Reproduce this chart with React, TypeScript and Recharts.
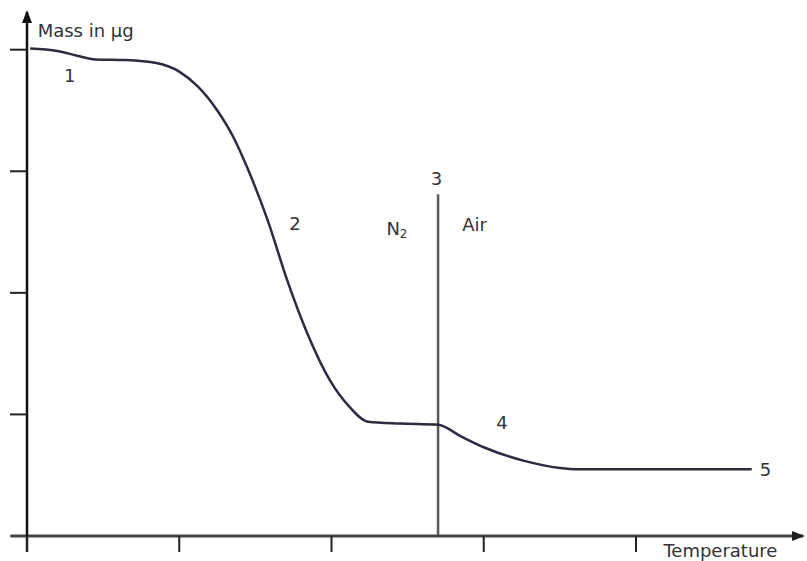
import {
  LineChart,
  Line,
  XAxis,
  YAxis,
  ReferenceLine,
  ReferenceDot,
} from "recharts";

// temperature (arbitrary units, one unit per x tick) and mass (one unit per y tick)
const temperature = [
  0.02, 0.2, 0.33, 0.45, 0.65, 0.85, 1.0, 1.12, 1.25, 1.36, 1.45, 1.58, 1.71,
  1.84, 1.99, 2.12, 2.24, 2.45, 2.7, 2.85, 3.0, 3.26, 3.5, 3.62, 4.76,
];
const mass = [
  4.01, 3.99, 3.95, 3.92, 3.915, 3.89, 3.82, 3.7, 3.5, 3.27, 3.02, 2.6, 2.1,
  1.67, 1.28, 1.06, 0.94, 0.925, 0.915, 0.82, 0.73, 0.62, 0.56, 0.55, 0.55,
];

const xTicks = [0, 1, 2, 3, 4];
const yTicks = [1, 2, 3, 4];

// gas switch from nitrogen to air
const switchTemp = 2.7;
const switchTop = 2.81;

// annotation labels [text, temperature, mass]
const labelText = ["1", "2", "3", "4", "5", "Air"];
const labelX = [0.28, 1.76, 2.69, 3.12, 4.85, 2.94];
const labelY = [3.79, 2.57, 2.94, 0.93, 0.55, 2.56];

const xMax = 5.097;
const yMax = 4.31;

const data = temperature.map((t, i) => ({ t, m: mass[i] }));

const FONT = "'DejaVu Sans', sans-serif";
const TEXT_COLOR = "#333";

const ArrowUp = ({ cx, cy }: any) => (
  <polygon
    points={`${cx},${cy - 2} ${cx - 5},${cy + 11} ${cx + 5},${cy + 11}`}
    fill="#111"
  />
);

const ArrowRight = ({ cx, cy }: any) => (
  <polygon
    points={`${cx + 2},${cy} ${cx - 11},${cy - 5} ${cx - 11},${cy + 5}`}
    fill="#222"
  />
);

const Label = ({ cx, cy, txt, anchor = "middle", size = 18 }: any) => (
  <text
    x={cx}
    y={cy}
    textAnchor={anchor}
    dominantBaseline="central"
    fontFamily={FONT}
    fontSize={size}
    fill={TEXT_COLOR}
  >
    {txt}
  </text>
);

const App = () => {
  return (
    <div style={{ position: "absolute", left: 0, top: 0, background: "#fff" }}>
      <LineChart
        width={807}
        height={561}
        data={data}
        margin={{ top: 12, right: 4, bottom: 24, left: 26 }}
      >
        <XAxis
          dataKey="t"
          type="number"
          domain={[0, xMax]}
          ticks={xTicks}
          height={1}
          tickSize={16}
          tickFormatter={() => ""}
          tickLine={{ stroke: "#222", strokeWidth: 2 }}
          axisLine={{ stroke: "#444", strokeWidth: 3 }}
        />
        <YAxis
          type="number"
          domain={[0, yMax]}
          ticks={yTicks}
          width={1}
          tickSize={17}
          tickFormatter={() => ""}
          tickLine={{ stroke: "#222", strokeWidth: 2 }}
          axisLine={{ stroke: "#111", strokeWidth: 2.5 }}
        />

        {/* axis stubs beyond the origin */}
        <ReferenceLine
          segment={[
            { x: -0.11, y: 0 },
            { x: 0, y: 0 },
          ]}
          ifOverflow="visible"
          stroke="#444"
          strokeWidth={3}
        />
        <ReferenceLine
          segment={[
            { x: 0, y: 0 },
            { x: 0, y: -0.13 },
          ]}
          ifOverflow="visible"
          stroke="#111"
          strokeWidth={2.5}
        />
        <ReferenceDot x={0} y={yMax} r={0} ifOverflow="visible" shape={ArrowUp} />
        <ReferenceDot x={xMax} y={0} r={0} ifOverflow="visible" shape={ArrowRight} />

        <ReferenceLine
          segment={[
            { x: switchTemp, y: 0 },
            { x: switchTemp, y: switchTop },
          ]}
          ifOverflow="visible"
          stroke="#5a5a5a"
          strokeWidth={2.5}
        />

        <Line
          dataKey="m"
          type="monotone"
          stroke="#2b2c40"
          strokeWidth={2.5}
          dot={false}
          isAnimationActive={false}
        />

        {labelText.map((txt, i) => (
          <ReferenceDot
            key={txt}
            x={labelX[i]}
            y={labelY[i]}
            r={0}
            ifOverflow="visible"
            shape={(p: any) => <Label {...p} txt={txt} />}
          />
        ))}

        <ReferenceDot
          x={2.43}
          y={2.53}
          r={0}
          ifOverflow="visible"
          shape={({ cx, cy }: any) => (
            <text
              x={cx}
              y={cy}
              textAnchor="middle"
              dominantBaseline="central"
              fontFamily={FONT}
              fontSize={18}
              fill={TEXT_COLOR}
            >
              N
              <tspan fontSize={12} dy={6}>
                2
              </tspan>
            </text>
          )}
        />

        <ReferenceDot
          x={0.07}
          y={4.16}
          r={0}
          ifOverflow="visible"
          shape={(p: any) => <Label {...p} txt="Mass in μg" anchor="start" size={18} />}
        />
        <ReferenceDot
          x={4.18}
          y={-0.12}
          r={0}
          ifOverflow="visible"
          shape={(p: any) => <Label {...p} txt="Temperature" anchor="start" size={18} />}
        />
      </LineChart>
    </div>
  );
};

export default App;
